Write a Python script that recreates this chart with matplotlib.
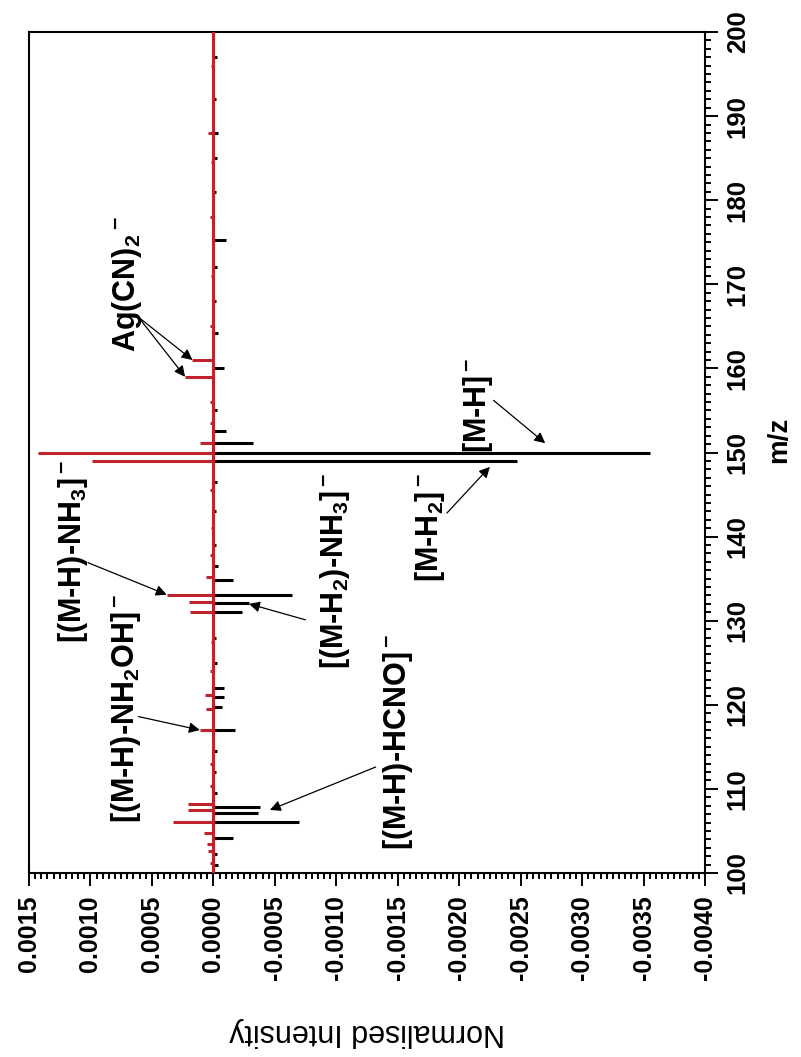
import matplotlib
matplotlib.use("Agg")
import matplotlib.pyplot as plt
from matplotlib.ticker import MultipleLocator, FuncFormatter

plt.rcParams["font.family"] = ["Liberation Sans", "DejaVu Sans"]
plt.rcParams["font.weight"] = "bold"
plt.rcParams["axes.unicode_minus"] = False
plt.rcParams["mathtext.fontset"] = "custom"
plt.rcParams["mathtext.rm"] = "Liberation Sans:bold"
plt.rcParams["mathtext.it"] = "Liberation Sans:bold"
plt.rcParams["mathtext.bf"] = "Liberation Sans:bold"
plt.rcParams["mathtext.default"] = "rm"

RED = "#c0232b"

# positive-mode spectrum (red) and negative-mode spectrum (black), normalised
red_mz = [101.2, 102.6, 103.5, 104.8, 106.1, 107.5, 108.2, 110.3, 113.0, 117.0, 119.5,
          121.2, 124.0, 127.5, 131.0, 132.2, 133.1, 135.2, 137.8, 141.0, 145.5, 149.0,
          150.0, 151.1, 153.5, 156.0, 159.0, 161.0, 165.0, 171.0, 178.0, 184.5, 188.0, 196.0]
red_int = [0.00003, 0.00004, 0.00005, 0.00008, 0.00033, 0.00021, 0.00021, 0.00003, 0.00003,
           0.00011, 0.00006, 0.00007, 0.00003, 0.00002, 0.00019, 0.00020, 0.00038, 0.00006,
           0.00003, 0.00002, 0.00003, 0.00099, 0.00143, 0.00011, 0.00003, 0.00003, 0.00023,
           0.00017, 0.00003, 0.00002, 0.00003, 0.00002, 0.00004, 0.00002]

black_mz = [101.0, 102.2, 104.2, 106.1, 107.1, 107.8, 109.5, 112.0, 114.5, 117.0, 119.7,
            120.9, 122.0, 125.0, 128.0, 131.0, 132.1, 133.05, 134.8, 136.5, 139.0, 143.0,
            146.5, 149.0, 150.0, 151.1, 152.5, 155.0, 160.0, 164.2, 168.0, 172.0, 175.3,
            181.0, 185.0, 188.0, 192.0, 197.0]
black_int = [-0.00004, -0.00003, -0.00016, -0.00070, -0.00036, -0.00038, -0.00003, -0.00002,
             -0.00003, -0.00018, -0.00007, -0.00009, -0.00009, -0.00003, -0.00002, -0.00023,
             -0.00029, -0.00064, -0.00016, -0.00004, -0.00002, -0.00002, -0.00003, -0.00247,
             -0.00355, -0.00032, -0.00010, -0.00003, -0.00009, -0.00004, -0.00002, -0.00003,
             -0.00010, -0.00002, -0.00003, -0.00004, -0.00002, -0.00003]

# peak labels: text, text centre (intensity, m/z), arrow start, arrow tips
labels = [
    (r"Ag(CN)$_2$$^-$", (0.00070, 170.0), (0.00061, 166.1), [(0.00017, 161.0), (0.00023, 159.0)]),
    (r"[(M-H)-NH$_3$]$^-$", (0.00114, 138.2), (0.00102, 136.9), [(0.00038, 133.1)]),
    (r"[(M-H)-NH$_2$OH]$^-$", (0.00071, 119.6), (0.00061, 118.6), [(0.00011, 117.0)]),
    (r"[(M-H$_2$)-NH$_3$]$^-$", (-0.00099, 135.9), (-0.00075, 130.1), [(-0.00029, 132.0)]),
    (r"[(M-H)-HCNO]$^-$", (-0.00150, 115.6), (-0.00132, 112.6), [(-0.00046, 107.5)]),
    (r"[M-H$_2$]$^-$", (-0.00176, 141.1), (-0.00190, 142.8), [(-0.00225, 148.3)]),
    (r"[M-H]$^-$", (-0.00215, 155.6), (-0.00228, 156.2), [(-0.00270, 151.1)]),
]

fig = plt.figure(figsize=(8.01, 10.57), dpi=100)
ax = fig.add_axes([29 / 801, 1 - 873 / 1057, 676 / 801, 841 / 1057])

# m/z runs along the vertical axis, intensity along the horizontal one
ax.axvline(0, color="black", lw=1.2, zorder=2)
ax.hlines(black_mz, 0, black_int, color="black", lw=2.2, zorder=3)
ax.axvline(0, color=RED, lw=2.2, zorder=4)
ax.hlines(red_mz, 0, red_int, color=RED, lw=2.2, zorder=5)

ax.set_xlim(0.0015, -0.0040)
ax.set_ylim(100, 200)

ax.xaxis.set_major_locator(MultipleLocator(0.0005))
ax.xaxis.set_minor_locator(MultipleLocator(0.00005))
ax.xaxis.set_major_formatter(FuncFormatter(lambda v, p: f"{round(v, 4) + 0:.4f}"))
ax.yaxis.set_major_locator(MultipleLocator(10))
ax.yaxis.set_minor_locator(MultipleLocator(1))
ax.yaxis.tick_right()

ax.tick_params(axis="x", which="both", direction="out", bottom=True, top=False,
               labelrotation=90, labelsize=18, pad=7, width=1.4)
ax.tick_params(axis="y", which="both", direction="out", right=True, left=False,
               labelrotation=90, labelsize=18.5, pad=6, width=1.4)
ax.tick_params(which="major", length=9)
ax.tick_params(which="minor", length=4.5)
for t in ax.yaxis.get_major_ticks():
    t.label2.set_va("center")

for s in ax.spines.values():
    s.set_linewidth(1.5)

ax.set_ylabel("m/z", fontsize=20, fontweight="bold", rotation=90, ha="center", va="center")
ax.yaxis.set_label_position("right")
ax.yaxis.set_label_coords(1.09, 0.515)
ax.set_xlabel("Normalised Intensity", fontsize=22, fontweight="normal", rotation=180,
              ha="center", va="center")
ax.xaxis.set_label_coords(0.5, -0.189)

for txt, pos, start, tips in labels:
    ax.text(pos[0], pos[1], txt, rotation=90, fontsize=22, ha="center", va="center")
    for tip in tips:
        ax.annotate("", xy=tip, xytext=start,
                    arrowprops=dict(arrowstyle="-|>", color="black", lw=0.9,
                                    mutation_scale=16, shrinkA=0, shrinkB=0))

fig.savefig("out.png", dpi=100)
